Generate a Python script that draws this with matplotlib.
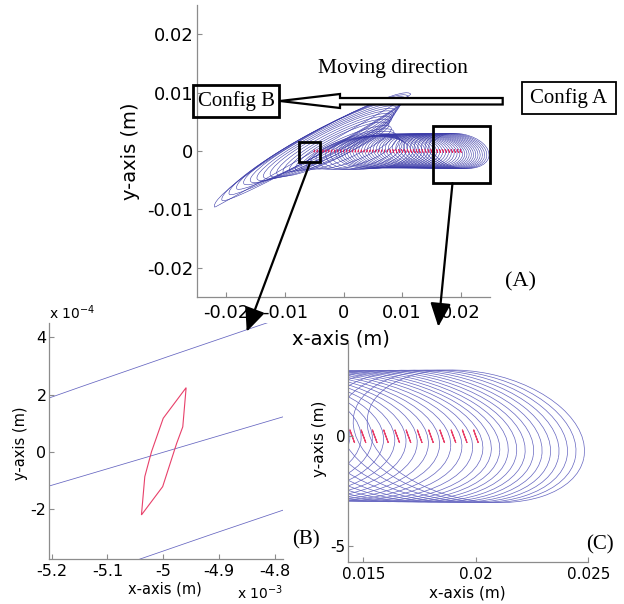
import matplotlib
matplotlib.use('Agg')
import matplotlib.pyplot as plt
from matplotlib.patches import Arc, Rectangle, Polygon, ConnectionPatch
from matplotlib.ticker import FixedLocator, FuncFormatter

# blue loops (mm): centre, half length, upper / lower half width and tilt,
# from config A (first) to config B (last)
loop_cx = [20.0, 19.5, 19.0, 18.5, 18.0, 17.5, 17.0, 16.5, 16.0, 15.5, 15.0,
           14.5, 14.0, 13.5, 13.0, 12.5, 12.0, 11.5, 11.0, 10.5, 10.0,
           9.5, 9.0, 8.5, 8.0, 7.5, 7.0, 6.5, 6.0, 5.5, 5.0,
           4.35, 3.7, 3.05, 2.4, 1.75, 1.1, 0.45, -0.2, -0.65, -1.1,
           -1.55, -2.0, -2.4, -2.8, -3.2, -3.6, -4.0, -4.45, -4.85, -5.25]
loop_cy = [0.0] * 31 + [0.07, 0.15, 0.22, 0.3, 0.39, 0.48, 0.56, 0.65, 0.8, 0.95,
                        1.08, 1.2, 1.25, 1.3, 1.33, 1.35, 1.1, 0.8, 0.45, 0.05]
loop_a = [4.9, 5.02, 5.14, 5.26, 5.38, 5.5, 5.62, 5.74, 5.86, 5.98, 6.1,
          6.22, 6.34, 6.38, 6.4, 6.4, 6.4, 6.4, 6.4, 6.4, 6.4,
          6.4, 6.4, 6.4, 6.4, 6.4, 6.4, 6.4, 6.4, 6.4, 6.4,
          6.6, 6.8, 7.05, 7.3, 7.65, 8.0, 8.4, 8.84, 9.55, 10.3,
          11.0, 11.76, 12.6, 13.4, 14.25, 15.1, 16.1, 17.14, 18.2, 19.33]
loop_b_up = [2.9] * 25 + [2.8, 2.75, 2.7, 2.65, 2.6, 2.5,
                          2.4, 2.3, 2.2, 2.1, 2.0, 1.8, 1.8, 2.1, 2.1, 2.1,
                          2.15, 2.2, 2.25, 2.3, 2.35, 2.4, 2.45, 2.5, 2.55, 2.6]
loop_b_low = [2.9] * 25 + [2.9, 2.9, 2.9, 2.9, 2.95, 3.0,
                           3.1, 3.2, 3.2, 3.1, 2.8, 2.3, 1.8, 1.3, 1.0, 0.85,
                           2.3, 2.3, 2.18, 2.07, 1.99, 1.84, 1.47, 1.35, 1.2, 0.17]
loop_tilt = [-12, -11.5, -11, -10.5, -10, -9.5, -9, -8.5, -8, -7.5, -7,
             -6.5, -6, -5.5, -5, -4.5, -4, -3.5, -3, -2.5, -2,
             -1.5, -1, -0.5, 0, 0.5, 1, 1.5, 2, 2.5, 3,
             5.5, 8, 11, 14, 17.5, 21, 24, 26, 26.5, 27,
             27, 27, 27, 27.1, 27.2, 27.4, 28, 28.6, 29.3, 30]

red_cx = [20.0, 19.5, 19.0, 18.5, 18.0, 17.5, 17.0, 16.5, 16.0, 15.5, 15.0,
          14.5, 14.0, 13.5, 13.0, 12.5, 12.0, 11.5, 11.0, 10.5, 10.0,
          9.5, 9.0, 8.5, 8.0, 7.5, 7.0, 6.5, 6.0, 5.5, 5.0,
          4.5, 4.0, 3.5, 3.0, 2.5, 2.0, 1.5, 1.0, 0.5, 0.0,
          -0.5, -1.0, -1.5, -2.0, -2.5, -3.0, -3.5, -4.0, -4.5, -5.0]
red_C_dx = [-0.10, -0.02, 0.05, 0.11, 0.03, -0.04]
red_C_dy = [0.30, 0.08, -0.12, -0.30, -0.08, 0.10]
red_B_dx = [0.041, 0.035, 0.024, -0.001, -0.039, -0.033, -0.021, 0.000]
red_B_dy = [0.224, 0.087, 0.029, -0.122, -0.221, -0.087, 0.000, 0.117]

W, H = 624, 604
fig = plt.figure(figsize=(W / 100, H / 100), dpi=100)


def box(l, t, r, b):
    return [l / W, 1 - b / H, (r - l) / W, (b - t) / H]


def px(x, y):
    return (x / W, 1 - y / H)


axA = fig.add_axes(box(197, 5, 490, 297))
axB = fig.add_axes(box(49.3, 323, 283.3, 559))
axC = fig.add_axes(box(348.3, 341.7, 588.3, 561.7))


def draw_loops(ax, lw_blue, c_blue, lw_red, c_red):
    for cx, cy, a, bu, bl, t in zip(loop_cx, loop_cy, loop_a, loop_b_up, loop_b_low, loop_tilt):
        ax.add_patch(Arc((cx * 1e-3, cy * 1e-3), 2 * a * 1e-3, 2 * bu * 1e-3, angle=t,
                         theta1=0, theta2=180, lw=lw_blue, color=c_blue))
        ax.add_patch(Arc((cx * 1e-3, cy * 1e-3), 2 * a * 1e-3, 2 * bl * 1e-3, angle=t,
                         theta1=180, theta2=360, lw=lw_blue, color=c_blue))
    for k, cx in enumerate(red_cx):
        if k < 25:
            dx, dy = red_C_dx, red_C_dy
        else:
            dx, dy = red_B_dx, red_B_dy
        pts = [((cx + u) * 1e-3, v * 1e-3) for u, v in zip(dx, dy)]
        ax.add_patch(Polygon(pts, closed=True, fill=False, lw=lw_red, ec=c_red))


def style(ax, fs, xpad, ypad):
    ax.set_facecolor('none')
    for s in ('top', 'right'):
        ax.spines[s].set_visible(False)
    for s in ('left', 'bottom'):
        ax.spines[s].set_color('#8c8c8c')
        ax.spines[s].set_linewidth(0.9)
    ax.tick_params(direction='in', length=3.5, width=0.8, color='#8c8c8c',
                   labelsize=fs, labelcolor='black')
    ax.tick_params(axis='x', pad=xpad)
    ax.tick_params(axis='y', pad=ypad)


# panel A
draw_loops(axA, 0.4, '#3a3aa8', 0.55, '#e0245e')
axA.set_xlim(-0.025, 0.025)
axA.set_ylim(-0.025, 0.025)
axA.xaxis.set_major_locator(FixedLocator([-0.02, -0.01, 0, 0.01, 0.02]))
axA.yaxis.set_major_locator(FixedLocator([-0.02, -0.01, 0, 0.01, 0.02]))
fmtA = FuncFormatter(lambda v, p: f'{v:g}')
axA.xaxis.set_major_formatter(fmtA)
axA.yaxis.set_major_formatter(fmtA)
style(axA, 13, 5, 2.5)
axA.set_xlabel('x-axis (m)', fontsize=14)
axA.set_ylabel('y-axis (m)', fontsize=14)
axA.xaxis.set_label_coords(0.491, -0.113)
axA.yaxis.set_label_coords(-0.195, 0.5)
axA.add_patch(Rectangle((-7.6e-3, -1.9e-3), 3.6e-3, 3.5e-3, fill=False, lw=2, ec='black'))
axA.add_patch(Rectangle((15.2e-3, -5.5e-3), 9.8e-3, 9.8e-3, fill=False, lw=2,
                        ec='black', clip_on=False))

# panel B
draw_loops(axB, 0.55, '#6464c0', 0.8, '#e8406a')
axB.set_xlim(-5.204e-3, -4.785e-3)
axB.set_ylim(-3.75e-4, 4.5e-4)
axB.xaxis.set_major_locator(FixedLocator([-5.2e-3, -5.1e-3, -5.0e-3, -4.9e-3, -4.8e-3]))
axB.yaxis.set_major_locator(FixedLocator([-2e-4, 0, 2e-4, 4e-4]))
axB.xaxis.set_major_formatter(FuncFormatter(lambda v, p: f'{v * 1e3:g}'))
axB.yaxis.set_major_formatter(FuncFormatter(lambda v, p: f'{v * 1e4:g}'))
style(axB, 11.5, 3.5, 2)
axB.set_xlabel('x-axis (m)', fontsize=10.5)
axB.set_ylabel('y-axis (m)', fontsize=10.5)
axB.xaxis.set_label_coords(0.494, -0.096)
axB.yaxis.set_label_coords(-0.091, 0.49)
axB.text(0.0, 1.005, r'x 10$^{-4}$', transform=axB.transAxes, ha='left', va='bottom',
         fontsize=10)
axB.text(1.0, -0.105, r'x 10$^{-3}$', transform=axB.transAxes, ha='right', va='top',
         fontsize=10)

# panel C
draw_loops(axC, 0.5, '#6464c0', 0.8, '#e8406a')
axC.set_xlim(0.01433, 0.025)
axC.set_ylim(-5.7e-3, 4.3e-3)
axC.xaxis.set_major_locator(FixedLocator([0.015, 0.02, 0.025]))
axC.yaxis.set_major_locator(FixedLocator([-5e-3, 0]))
axC.xaxis.set_major_formatter(FuncFormatter(lambda v, p: f'{v:g}'))
axC.yaxis.set_major_formatter(FuncFormatter(lambda v, p: f'{v * 1e3:g}'))
style(axC, 11, 3.5, 2)
axC.set_xlabel('x-axis (m)', fontsize=11)
axC.set_ylabel('y-axis (m)', fontsize=11)
axC.xaxis.set_label_coords(0.4975, -0.106)
axC.yaxis.set_label_coords(-0.089, 0.56)

# zoom arrows from panel A boxes
for xyA, xyB in [((-5.67e-3, -1.9e-3), px(246.7, 331.7)),
                 ((18.6e-3, -5.5e-3), px(438.3, 326.7))]:
    con = ConnectionPatch(xyA=xyA, coordsA=axA.transData, xyB=xyB,
                          coordsB=fig.transFigure, arrowstyle='-|>,head_length=0.8,head_width=0.35',
                          mutation_scale=18, lw=1.6, color='black')
    fig.add_artist(con)

# moving direction arrow and config boxes
arrow = Polygon([px(280, 101), px(340, 94), px(340, 98), px(502.7, 98),
                 px(502.7, 104.5), px(340, 104.5), px(340, 108)],
                closed=True, fc='white', ec='black', lw=1.6, transform=fig.transFigure)
fig.add_artist(arrow)
l, b, w, h = box(192.7, 85, 279.3, 116.7)
fig.add_artist(Rectangle((l, b), w, h, fill=False, lw=2, ec='black', transform=fig.transFigure))
l, b, w, h = box(521.7, 81.7, 616, 114.3)
fig.add_artist(Rectangle((l, b), w, h, fill=False, lw=1.3, ec='black', transform=fig.transFigure))

serif = 'Liberation Serif'
fig.text(*px(236, 101), 'Config B', family=serif, fontsize=15, ha='center', va='center')
fig.text(*px(569, 98), 'Config A', family=serif, fontsize=15, ha='center', va='center')
fig.text(*px(392.5, 68), 'Moving direction', family=serif, fontsize=15.5, ha='center', va='center')
fig.text(*px(521, 282), '(A)', family=serif, fontsize=16, ha='center', va='center')
fig.text(*px(306, 540), '(B)', family=serif, fontsize=15, ha='center', va='center')
fig.text(*px(600, 545), '(C)', family=serif, fontsize=15, ha='center', va='center')

fig.savefig('out.png', dpi=100)
